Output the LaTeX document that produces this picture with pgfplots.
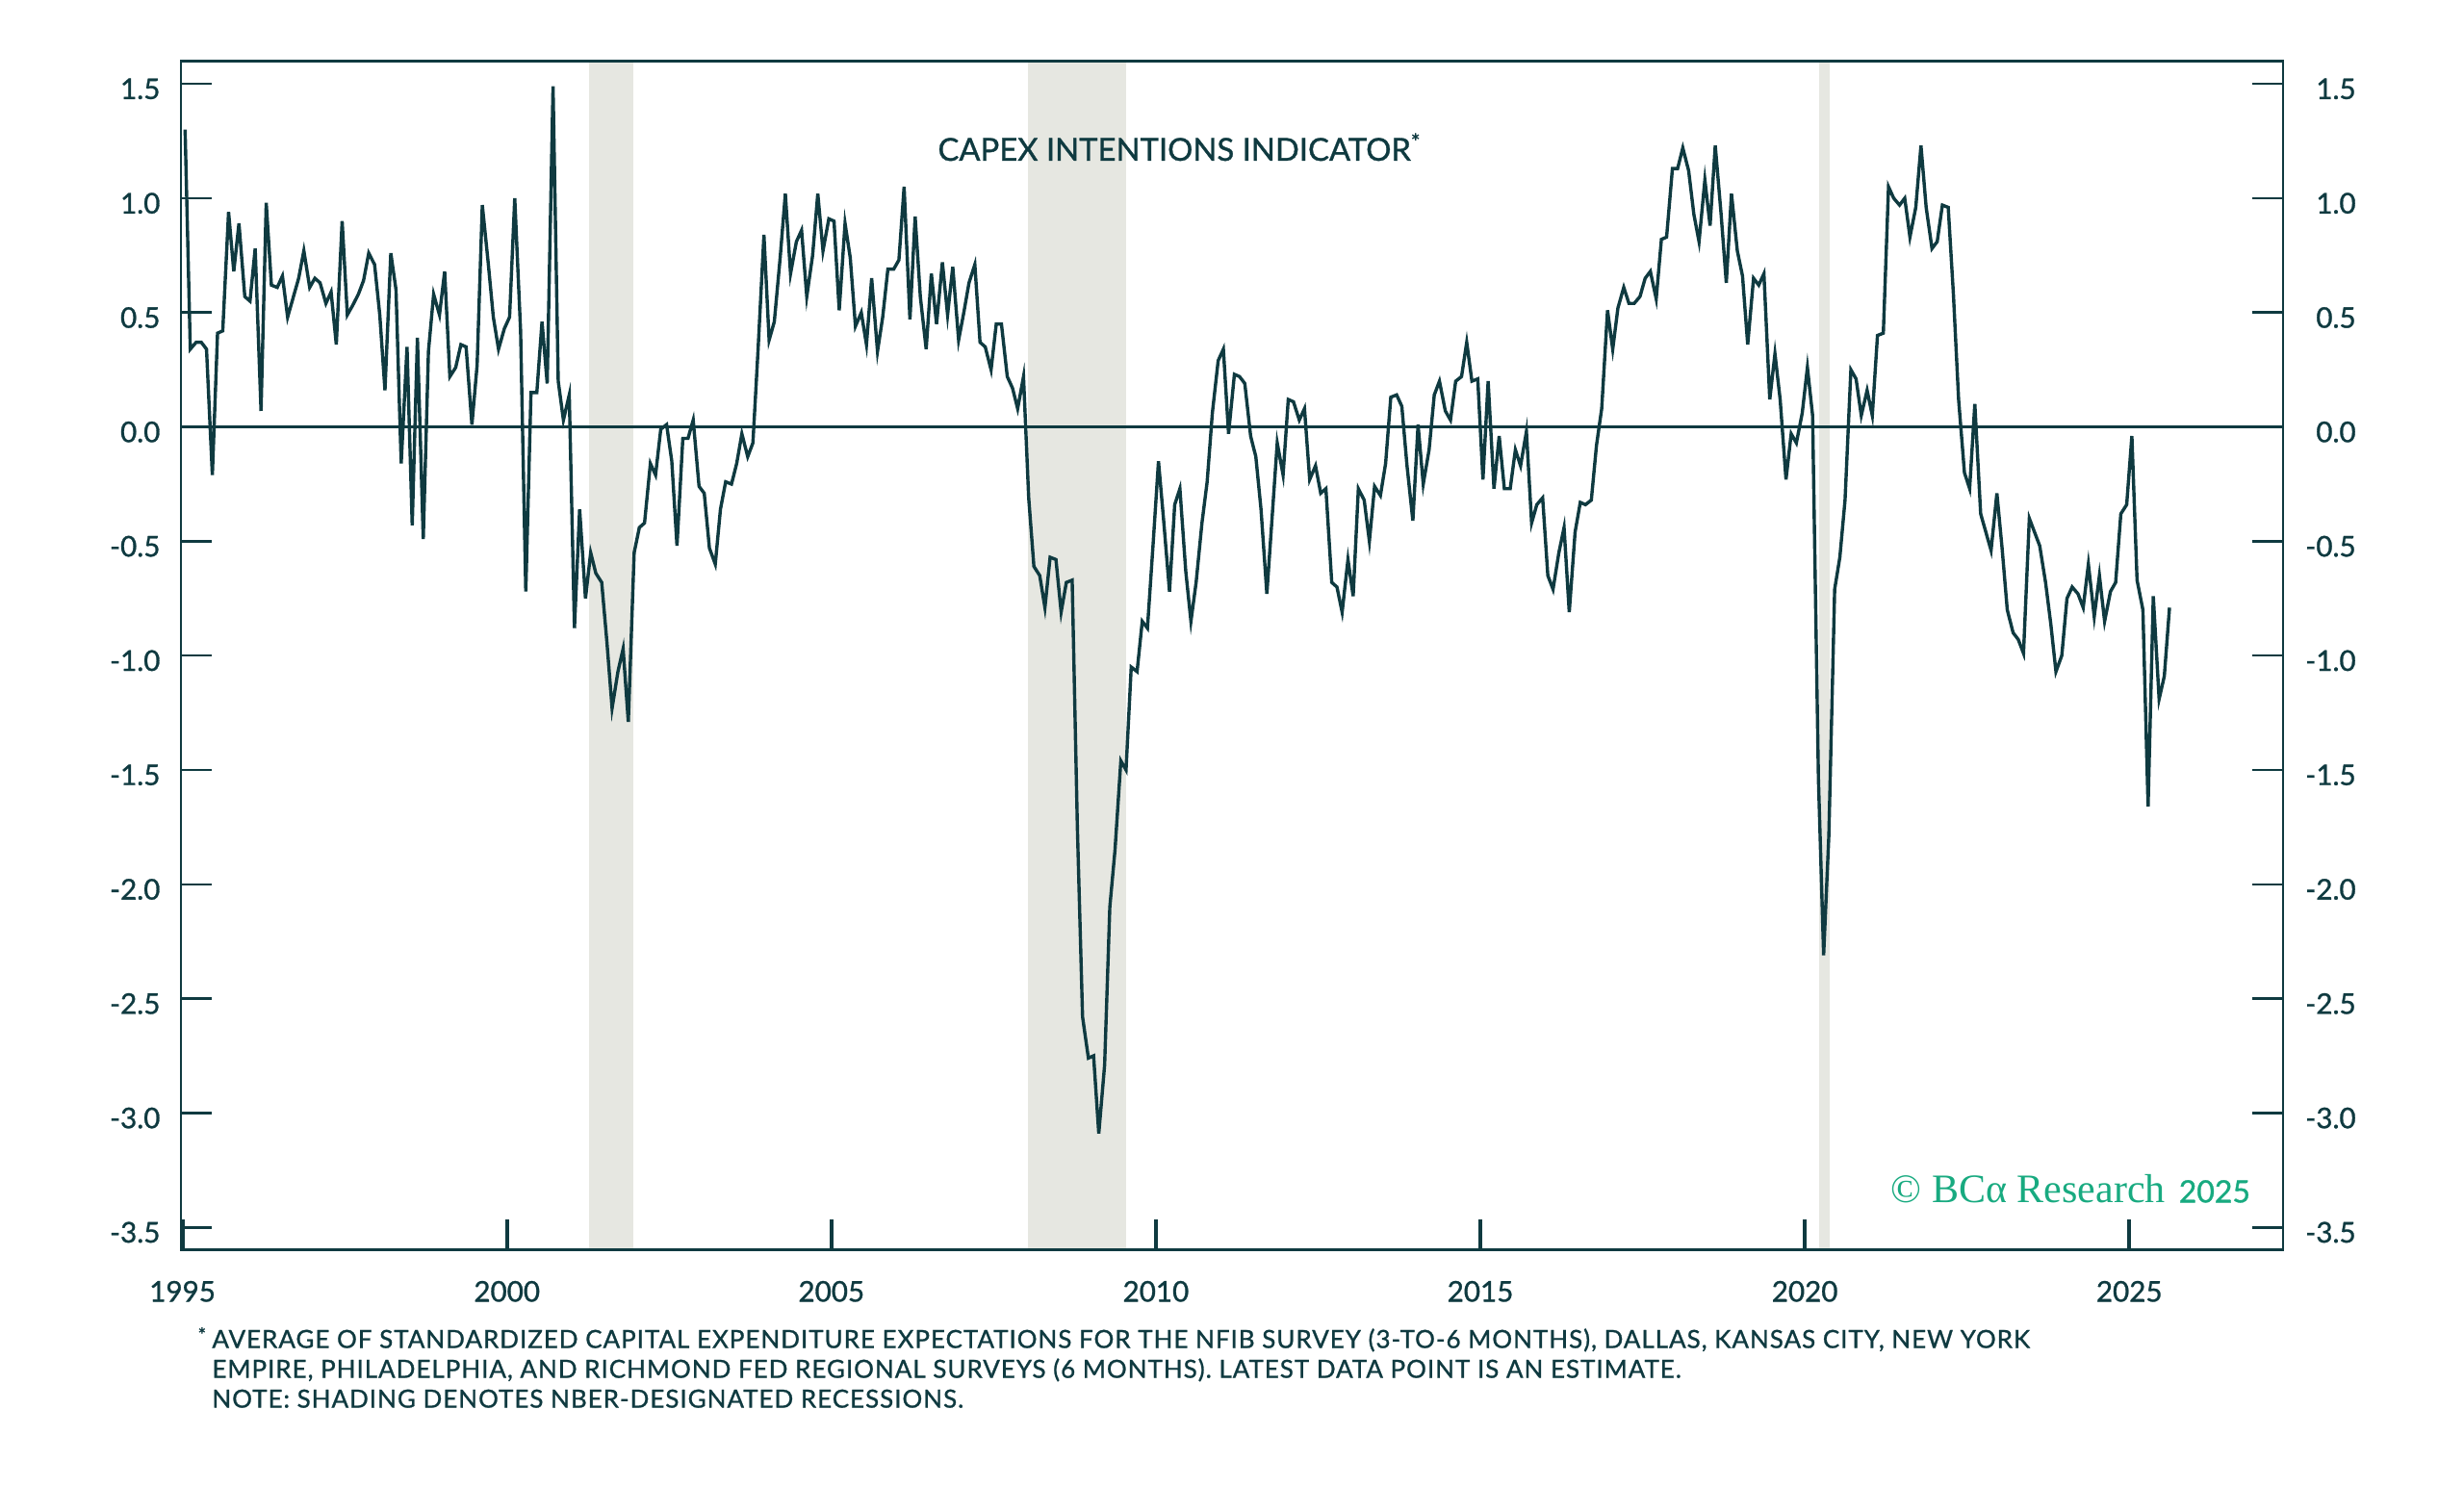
\documentclass[border=0pt]{standalone}
\usepackage{fontspec}
\setmainfont{Lato}[RawFeature={embolden=1.0}]
\newfontfamily\footfont{Lato}[RawFeature={embolden=1.0}, LetterSpace=3.7]
\newfontfamily\wmserif{Liberation Serif}
\usepackage{pgfplots}
\pgfplotsset{compat=1.18}
\definecolor{bcadark}{HTML}{0F3A40}
\definecolor{bcashade}{HTML}{E6E7E1}
\definecolor{bcagreen}{HTML}{18AA80}
\begin{document}
\begin{tikzpicture}
\useasboundingbox (0,0) rectangle (640pt,392.75pt);
\begin{axis}[
  at={(47pt,68pt)}, anchor=south west,
  scale only axis, width=546pt, height=308.9pt,
  xmin=1994.976, xmax=2027.37, ymin=-3.6, ymax=1.6,
  axis on top,
  axis line style={bcadark, line width=0.65pt},
  xtick={1995,2000,2005,2010,2015,2020,2025},
  xticklabels={1995,2000,2005,2010,2015,2020,2025},
  xtick pos=bottom, xtick align=inside,
  ytick={-3.5,-3,-2.5,-2,-1.5,-1,-0.5,0,0.5,1,1.5},
  yticklabels={-3.5,-3.0,-2.5,-2.0,-1.5,-1.0,-0.5,0.0,0.5,1.0,1.5},
  ytick pos=both, yticklabel pos=left, ytick align=inside,
  major tick length=7.9pt,
  xtick style={bcadark, line width=0.95pt},
  ytick style={bcadark, line width=0.65pt},
  ticklabel style={font=\fontsize{7.4}{8}\selectfont, text=bcadark, inner sep=0pt},
  xticklabel style={anchor=center, yshift=-10.7pt},
  yticklabel style={anchor=east, xshift=-5.2pt, yshift=-1.3pt},
]
\addplot [fill=bcashade, draw=none] coordinates {(2001.26,-3.6) (2001.94,-3.6) (2001.94,1.6) (2001.26,1.6)} -- cycle;
\addplot [fill=bcashade, draw=none] coordinates {(2008.03,-3.6) (2009.54,-3.6) (2009.54,1.6) (2008.03,1.6)} -- cycle;
\addplot [fill=bcashade, draw=none] coordinates {(2020.22,-3.6) (2020.39,-3.6) (2020.39,1.6) (2020.22,1.6)} -- cycle;
\addplot [bcadark, line width=0.65pt] coordinates {(1994.976,0) (2027.37,0)};
\addplot [bcadark, line width=1.0pt] coordinates {(1994.976,-3.6) (2027.37,-3.6)};
\addplot [bcadark, line width=0.85pt] coordinates {
(1995.04,1.30) (1995.12,0.34) (1995.21,0.37) (1995.29,0.37) (1995.37,0.34) (1995.46,-0.21) (1995.54,0.41) (1995.62,0.42) (1995.71,0.94) (1995.79,0.68) (1995.87,0.89) (1995.96,0.57)
(1996.04,0.55) (1996.12,0.78) (1996.21,0.07) (1996.29,0.98) (1996.37,0.62) (1996.46,0.61) (1996.54,0.66) (1996.62,0.48) (1996.71,0.57) (1996.79,0.65) (1996.87,0.77) (1996.96,0.61)
(1997.04,0.65) (1997.12,0.63) (1997.21,0.54) (1997.29,0.59) (1997.37,0.36) (1997.46,0.90) (1997.54,0.49) (1997.62,0.53) (1997.71,0.58) (1997.79,0.64) (1997.87,0.76) (1997.96,0.71)
(1998.04,0.49) (1998.12,0.16) (1998.21,0.76) (1998.29,0.60) (1998.37,-0.16) (1998.46,0.35) (1998.54,-0.43) (1998.62,0.39) (1998.71,-0.49) (1998.79,0.33) (1998.87,0.58) (1998.96,0.49)
(1999.04,0.68) (1999.12,0.22) (1999.21,0.26) (1999.29,0.36) (1999.37,0.35) (1999.46,0.01) (1999.54,0.27) (1999.62,0.97) (1999.71,0.72) (1999.79,0.48) (1999.87,0.34) (1999.96,0.43)
(2000.04,0.48) (2000.12,1.00) (2000.21,0.42) (2000.29,-0.72) (2000.37,0.15) (2000.46,0.15) (2000.54,0.46) (2000.62,0.19) (2000.71,1.49) (2000.79,0.20) (2000.87,0.03) (2000.96,0.14)
(2001.04,-0.88) (2001.12,-0.36) (2001.21,-0.75) (2001.29,-0.55) (2001.37,-0.64) (2001.46,-0.68) (2001.54,-0.94) (2001.62,-1.23) (2001.71,-1.07) (2001.79,-0.97) (2001.87,-1.29) (2001.96,-0.55)
(2002.04,-0.44) (2002.12,-0.42) (2002.21,-0.16) (2002.29,-0.21) (2002.37,-0.01) (2002.46,0.01) (2002.54,-0.15) (2002.62,-0.52) (2002.71,-0.05) (2002.79,-0.05) (2002.87,0.03) (2002.96,-0.26)
(2003.04,-0.29) (2003.12,-0.53) (2003.21,-0.60) (2003.29,-0.36) (2003.37,-0.24) (2003.46,-0.25) (2003.54,-0.16) (2003.62,-0.03) (2003.71,-0.13) (2003.79,-0.07) (2003.87,0.34) (2003.96,0.84)
(2004.04,0.38) (2004.12,0.46) (2004.21,0.74) (2004.29,1.02) (2004.37,0.67) (2004.46,0.81) (2004.54,0.86) (2004.62,0.57) (2004.71,0.75) (2004.79,1.02) (2004.87,0.77) (2004.96,0.91)
(2005.04,0.90) (2005.12,0.51) (2005.21,0.89) (2005.29,0.74) (2005.37,0.44) (2005.46,0.50) (2005.54,0.36) (2005.62,0.65) (2005.71,0.33) (2005.79,0.48) (2005.87,0.69) (2005.96,0.69)
(2006.04,0.73) (2006.12,1.05) (2006.21,0.47) (2006.29,0.92) (2006.37,0.57) (2006.46,0.34) (2006.54,0.67) (2006.62,0.45) (2006.71,0.72) (2006.79,0.49) (2006.87,0.70) (2006.96,0.38)
(2007.04,0.50) (2007.12,0.63) (2007.21,0.71) (2007.29,0.37) (2007.37,0.35) (2007.46,0.25) (2007.54,0.45) (2007.62,0.45) (2007.71,0.22) (2007.79,0.17) (2007.87,0.08) (2007.96,0.22)
(2008.04,-0.31) (2008.12,-0.61) (2008.21,-0.65) (2008.29,-0.79) (2008.37,-0.57) (2008.46,-0.58) (2008.54,-0.81) (2008.62,-0.68) (2008.71,-0.67) (2008.79,-1.75) (2008.87,-2.58) (2008.96,-2.76)
(2009.04,-2.75) (2009.12,-3.09) (2009.21,-2.79) (2009.29,-2.10) (2009.37,-1.85) (2009.46,-1.46) (2009.54,-1.50) (2009.62,-1.05) (2009.71,-1.07) (2009.79,-0.85) (2009.87,-0.88) (2009.96,-0.50)
(2010.04,-0.15) (2010.12,-0.41) (2010.21,-0.72) (2010.29,-0.34) (2010.37,-0.27) (2010.46,-0.63) (2010.54,-0.85) (2010.62,-0.68) (2010.71,-0.42) (2010.79,-0.24) (2010.87,0.06) (2010.96,0.29)
(2011.04,0.34) (2011.12,-0.03) (2011.21,0.23) (2011.29,0.22) (2011.37,0.19) (2011.46,-0.04) (2011.54,-0.13) (2011.62,-0.36) (2011.71,-0.73) (2011.79,-0.40) (2011.87,-0.07) (2011.96,-0.21)
(2012.04,0.12) (2012.12,0.11) (2012.21,0.03) (2012.29,0.08) (2012.37,-0.23) (2012.46,-0.17) (2012.54,-0.29) (2012.62,-0.27) (2012.71,-0.68) (2012.79,-0.70) (2012.87,-0.81) (2012.96,-0.58)
(2013.04,-0.74) (2013.12,-0.27) (2013.21,-0.32) (2013.29,-0.50) (2013.37,-0.26) (2013.46,-0.30) (2013.54,-0.16) (2013.62,0.13) (2013.71,0.14) (2013.79,0.09) (2013.87,-0.17) (2013.96,-0.41)
(2014.04,0.01) (2014.12,-0.25) (2014.21,-0.10) (2014.29,0.14) (2014.37,0.20) (2014.46,0.07) (2014.54,0.03) (2014.62,0.20) (2014.71,0.22) (2014.79,0.37) (2014.87,0.20) (2014.96,0.21)
(2015.04,-0.23) (2015.12,0.20) (2015.21,-0.27) (2015.29,-0.04) (2015.37,-0.27) (2015.46,-0.27) (2015.54,-0.10) (2015.62,-0.17) (2015.71,-0.02) (2015.79,-0.42) (2015.87,-0.34) (2015.96,-0.31)
(2016.04,-0.65) (2016.12,-0.71) (2016.21,-0.55) (2016.29,-0.44) (2016.37,-0.81) (2016.46,-0.46) (2016.54,-0.33) (2016.62,-0.34) (2016.71,-0.32) (2016.79,-0.08) (2016.87,0.08) (2016.96,0.51)
(2017.04,0.34) (2017.12,0.52) (2017.21,0.61) (2017.29,0.54) (2017.37,0.54) (2017.46,0.57) (2017.54,0.65) (2017.62,0.68) (2017.71,0.56) (2017.79,0.82) (2017.87,0.83) (2017.96,1.13)
(2018.04,1.13) (2018.12,1.22) (2018.21,1.12) (2018.29,0.93) (2018.37,0.81) (2018.46,1.08) (2018.54,0.88) (2018.62,1.23) (2018.71,0.93) (2018.79,0.63) (2018.87,1.02) (2018.96,0.77)
(2019.04,0.66) (2019.12,0.36) (2019.21,0.65) (2019.29,0.62) (2019.37,0.67) (2019.46,0.12) (2019.54,0.32) (2019.62,0.12) (2019.71,-0.23) (2019.79,-0.03) (2019.87,-0.07) (2019.96,0.06)
(2020.04,0.26) (2020.12,0.05) (2020.21,-1.54) (2020.29,-2.31) (2020.37,-1.79) (2020.46,-0.71) (2020.54,-0.57) (2020.62,-0.32) (2020.71,0.25) (2020.79,0.21) (2020.87,0.05) (2020.96,0.16)
(2021.04,0.05) (2021.12,0.40) (2021.21,0.41) (2021.29,1.05) (2021.37,1.00) (2021.46,0.97) (2021.54,1.00) (2021.62,0.83) (2021.71,0.96) (2021.79,1.23) (2021.87,0.96) (2021.96,0.78)
(2022.04,0.81) (2022.12,0.97) (2022.21,0.96) (2022.29,0.58) (2022.37,0.12) (2022.46,-0.20) (2022.54,-0.27) (2022.62,0.10) (2022.71,-0.38) (2022.79,-0.46) (2022.87,-0.54) (2022.96,-0.29)
(2023.04,-0.53) (2023.12,-0.80) (2023.21,-0.90) (2023.29,-0.93) (2023.37,-0.99) (2023.46,-0.40) (2023.54,-0.46) (2023.62,-0.52) (2023.71,-0.68) (2023.79,-0.86) (2023.87,-1.07) (2023.96,-1.00)
(2024.04,-0.75) (2024.12,-0.70) (2024.21,-0.73) (2024.29,-0.79) (2024.37,-0.60) (2024.46,-0.83) (2024.54,-0.65) (2024.62,-0.85) (2024.71,-0.72) (2024.79,-0.68) (2024.87,-0.38) (2024.96,-0.34)
(2025.04,-0.04) (2025.12,-0.67) (2025.21,-0.80) (2025.29,-1.66) (2025.37,-0.74) (2025.46,-1.19) (2025.54,-1.09) (2025.62,-0.79)
};
\end{axis}
\begin{axis}[
  at={(47pt,68pt)}, anchor=south west,
  scale only axis, width=546pt, height=308.9pt,
  xmin=1994.976, xmax=2027.37, ymin=-3.6, ymax=1.6,
  axis x line=none, axis y line*=right,
  y axis line style={draw=none},
  ytick={-3.5,-3,-2.5,-2,-1.5,-1,-0.5,0,0.5,1,1.5},
  yticklabels={-3.5,-3.0,-2.5,-2.0,-1.5,-1.0,-0.5,0.0,0.5,1.0,1.5},
  ytick style={draw=none}, major tick length=0pt,
  ticklabel style={font=\fontsize{7.4}{8}\selectfont, text=bcadark, inner sep=0pt},
  yticklabel style={anchor=east, xshift=19.1pt, yshift=-1.3pt},
]
\end{axis}
\node[anchor=base, text=bcadark, inner sep=0pt, font=\fontsize{8.2}{9}\selectfont] at (306.5pt,351pt) {CAPEX INTENTIONS INDICATOR\textsuperscript{*}};
\node[anchor=base east, text=bcagreen, inner sep=0pt] at (584.7pt,80.4pt) {{\wmserif\fontsize{10.5}{12}\selectfont \textcopyright\ BCα Research}\hspace{3.5pt}{\fontsize{8}{9}\selectfont 2025}};
\node[anchor=base west, text=bcadark, inner sep=0pt, font=\fontsize{5}{6}\selectfont] at (51.2pt,44.2pt) {*};
\node[anchor=base west, text=bcadark, inner sep=0pt, font=\footfont\fontsize{6.5}{7}\selectfont] at (54.9pt,42.6pt) {AVERAGE OF STANDARDIZED CAPITAL EXPENDITURE EXPECTATIONS FOR THE NFIB SURVEY (3-TO-6 MONTHS), DALLAS, KANSAS CITY, NEW YORK};
\node[anchor=base west, text=bcadark, inner sep=0pt, font=\footfont\fontsize{6.5}{7}\selectfont] at (54.9pt,34.85pt) {EMPIRE, PHILADELPHIA, AND RICHMOND FED REGIONAL SURVEYS (6 MONTHS). LATEST DATA POINT IS AN ESTIMATE.};
\node[anchor=base west, text=bcadark, inner sep=0pt, font=\footfont\fontsize{6.5}{7}\selectfont] at (54.9pt,27.1pt) {NOTE: SHADING DENOTES NBER-DESIGNATED RECESSIONS.};
\end{tikzpicture}
\end{document}
